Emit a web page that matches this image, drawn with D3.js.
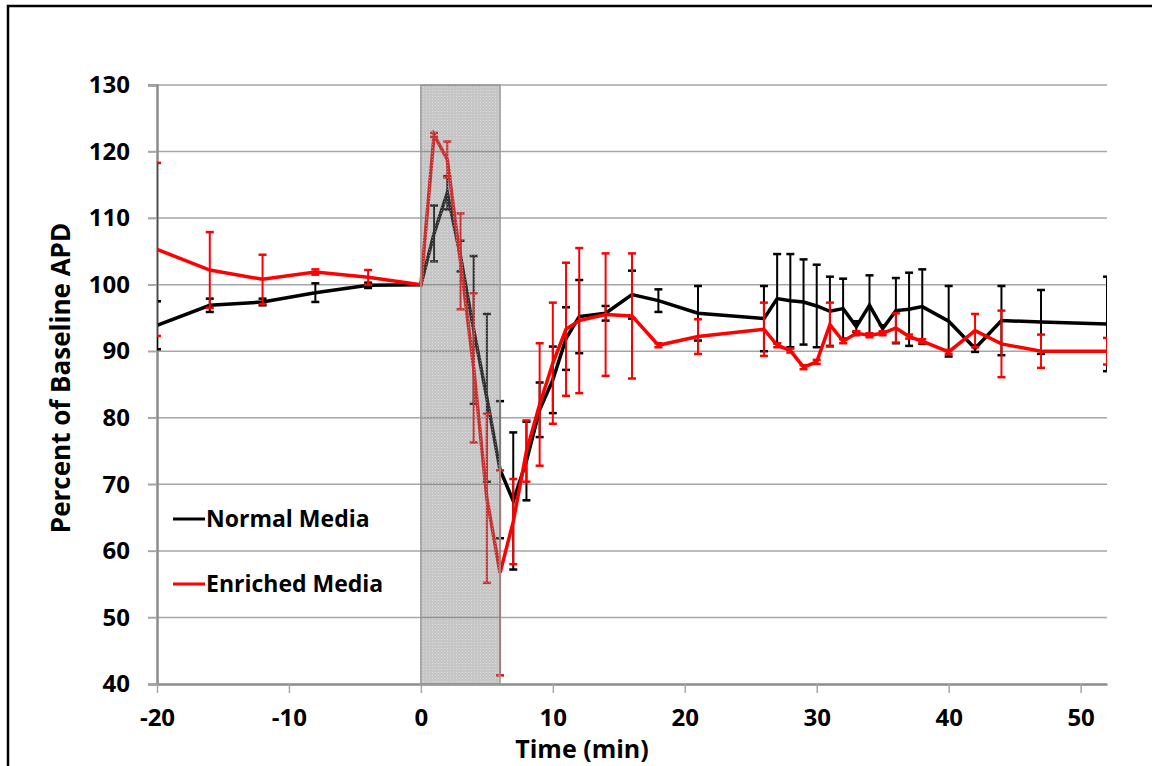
<!DOCTYPE html>
<html>
<head>
<meta charset="utf-8">
<script src="https://cdn.jsdelivr.net/npm/d3@7"></script>
<style>
  body { margin: 0; background: #fff; }
  svg text { font-family: "Open Sans", "Liberation Sans", sans-serif; font-weight: bold; fill: #000; }
</style>
</head>
<body>
<svg id="chart" width="1152" height="766"></svg>
<script>
// time points (min), shared by both series
const times = [-20, -16, -12, -8, -4, 0, 1, 2, 3, 4, 5, 6, 7, 8, 9, 10, 11, 12, 14, 16, 18, 21,
  26, 27, 28, 29, 30, 31, 32, 33, 34, 35, 36, 37, 38, 40, 42, 44, 47, 52];

const normalMean = [93.9, 96.9, 97.4, 98.8, 99.9, 100, 107.7, 113.8, 104.3, 93.2, 83.0, 72.2, 67.5, 73.5, 81.2, 85.7, 91.9, 95.2, 95.7, 98.5, 97.6, 95.7,
  94.9, 97.9, 97.6, 97.4, 96.8, 96.0, 96.4, 93.7, 96.9, 93.4, 96.1, 96.3, 96.7, 94.5, 90.4, 94.6, 94.4, 94.1];
const normalErr = [3.6, 1.0, 0.5, 1.4, 0.4, 0, 4.2, 2.5, 2.3, 11.1, 12.6, 10.3, 10.3, 5.9, 4.1, 5.0, 4.7, 5.5, 1.1, 3.6, 1.7, 4.1,
  4.9, 6.7, 7.0, 6.4, 6.2, 5.2, 4.5, 0.8, 4.5, 0.5, 4.9, 5.5, 5.6, 5.3, 0.5, 5.2, 4.8, 7.1];

const enrichedMean = [105.3, 102.2, 100.8, 101.9, 101.1, 100, 122.5, 118.8, 103.5, 87.5, 67.9, 56.7, 64.4, 75.0, 82.0, 88.2, 93.3, 94.6, 95.5, 95.3, 90.9, 92.2,
  93.3, 90.9, 90.1, 87.6, 88.4, 94.0, 91.5, 92.7, 92.4, 92.7, 93.5, 92.2, 91.5, 89.9, 93.1, 91.1, 90.0, 90.0];
const enrichedErr = [13.0, 5.7, 3.7, 0.4, 1.1, 0, 0.3, 2.7, 7.2, 11.2, 12.7, 15.4, 6.4, 4.6, 9.2, 9.1, 10.0, 10.9, 9.2, 9.4, 0.3, 2.6,
  4.0, 0.3, 0.3, 0.3, 0.3, 3.3, 0.3, 0.3, 0.3, 0.3, 2.2, 0.3, 0.3, 0.3, 2.5, 5.0, 2.5, 2.0];

const xTicks = [-20, -10, 0, 10, 20, 30, 40, 50];
const yTicks = [40, 50, 60, 70, 80, 90, 100, 110, 120, 130];
const treatment = [0, 6]; // shaded window

const seriesList = [
  { name: 'Normal Media', color: '#000000', mean: normalMean, err: normalErr },
  { name: 'Enriched Media', color: '#ff0000', mean: enrichedMean, err: enrichedErr }
];

const svg = d3.select('#chart');
const margin = { left: 157, right: 45, top: 85, bottom: 82 };
const W = 1152, H = 766;

const x = d3.scaleLinear().domain([-20, 52]).range([margin.left, W - margin.right]);
const y = d3.scaleLinear().domain([40, 130]).range([H - margin.bottom, margin.top]);

// outer frame (left and top edges visible)
svg.append('path')
  .attr('d', `M8,766 L8,6 L1152,6`)
  .attr('fill', 'none').attr('stroke', '#000').attr('stroke-width', 2.5);

// clip to plot area
svg.append('defs').append('clipPath').attr('id', 'plot-clip')
  .append('rect')
  .attr('x', x(-20)).attr('y', y(130) - 2)
  .attr('width', x(52) - x(-20)).attr('height', y(40) - y(130) + 4);

// dotted fill for the shaded window
const pat = svg.select('defs').append('pattern')
  .attr('id', 'dots').attr('width', 3).attr('height', 3)
  .attr('patternUnits', 'userSpaceOnUse');
pat.append('rect').attr('width', 3).attr('height', 3).attr('fill', 'rgb(120,120,120)').attr('fill-opacity', 0.42);
pat.append('rect').attr('width', 1).attr('height', 1).attr('fill', '#fff').attr('fill-opacity', 0.35);

// gridlines
svg.append('g')
  .selectAll('line')
  .data(yTicks.filter(d => d > 40))
  .enter().append('line')
  .attr('x1', x(-20) - 9).attr('x2', x(52))
  .attr('y1', d => y(d)).attr('y2', d => y(d))
  .attr('stroke', '#a6a6a6').attr('stroke-width', 1.5);

// y axis
const yAxis = svg.append('g')
  .attr('transform', `translate(${x(-20)},0)`)
  .call(d3.axisLeft(y).tickValues(yTicks).tickSize(9).tickPadding(18));
yAxis.select('.domain').attr('stroke', '#8c8c8c').attr('stroke-width', 2.5);
yAxis.selectAll('.tick line').attr('stroke', '#a6a6a6').attr('stroke-width', 1.5);
yAxis.selectAll('.tick text').style('font-size', '24px').attr('font-family', null);

// x axis (plain hyphen for negatives)
const xAxis = svg.append('g')
  .attr('transform', `translate(0,${y(40)})`)
  .call(d3.axisBottom(x).tickValues(xTicks).tickSize(9).tickSizeOuter(0).tickPadding(16).tickFormat(d => String(d)));
xAxis.select('.domain').attr('stroke', '#8c8c8c').attr('stroke-width', 2.5);
xAxis.selectAll('.tick line').attr('stroke', '#a6a6a6').attr('stroke-width', 1.5);
xAxis.selectAll('.tick text').style('font-size', '24px').attr('font-family', null);

// series
const plot = svg.append('g').attr('clip-path', 'url(#plot-clip)');
const line = d3.line().x(d => x(d.t)).y(d => y(d.v));

seriesList.forEach(s => {
  const pts = times.map((t, i) => ({ t, v: s.mean[i], e: s.err[i] }));
  const g = plot.append('g');
  const bars = g.selectAll('.eb').data(pts.filter(d => d.e > 0)).enter().append('g');
  bars.append('line')
    .attr('x1', d => x(d.t)).attr('x2', d => x(d.t))
    .attr('y1', d => y(d.v - d.e)).attr('y2', d => y(d.v + d.e))
    .attr('stroke', s.color).attr('stroke-width', 2);
  [1, -1].forEach(sign => {
    bars.append('line')
      .attr('x1', d => x(d.t) - 4).attr('x2', d => x(d.t) + 4)
      .attr('y1', d => y(d.v + sign * d.e)).attr('y2', d => y(d.v + sign * d.e))
      .attr('stroke', s.color).attr('stroke-width', 2.5);
  });
  g.append('path').datum(pts)
    .attr('d', line)
    .attr('fill', 'none').attr('stroke', s.color).attr('stroke-width', 3.5)
    .attr('stroke-linejoin', 'miter');
});

// shaded treatment window on top
svg.append('rect')
  .attr('x', x(treatment[0])).attr('y', y(130))
  .attr('width', x(treatment[1]) - x(treatment[0])).attr('height', y(40) - y(130))
  .attr('fill', 'url(#dots)')
  .attr('stroke', '#9a9a9a').attr('stroke-width', 1.5);

// legend
const legend = svg.append('g');
seriesList.forEach((s, i) => {
  const ly = 519 + i * 65;
  legend.append('line')
    .attr('x1', 173).attr('x2', 205).attr('y1', ly).attr('y2', ly)
    .attr('stroke', s.color).attr('stroke-width', 3);
  legend.append('text')
    .attr('x', 206).attr('y', ly).attr('dy', '0.35em')
    .style('font-size', '23px')
    .text(s.name);
});

// axis titles
svg.append('text')
  .attr('x', 582).attr('y', 758)
  .attr('text-anchor', 'middle')
  .style('font-size', '25px')
  .text('Time (min)');

svg.append('text')
  .attr('transform', `translate(70,378) rotate(-90)`)
  .attr('text-anchor', 'middle')
  .style('font-size', '26px')
  .text('Percent of Baseline APD');
</script>
</body>
</html>
